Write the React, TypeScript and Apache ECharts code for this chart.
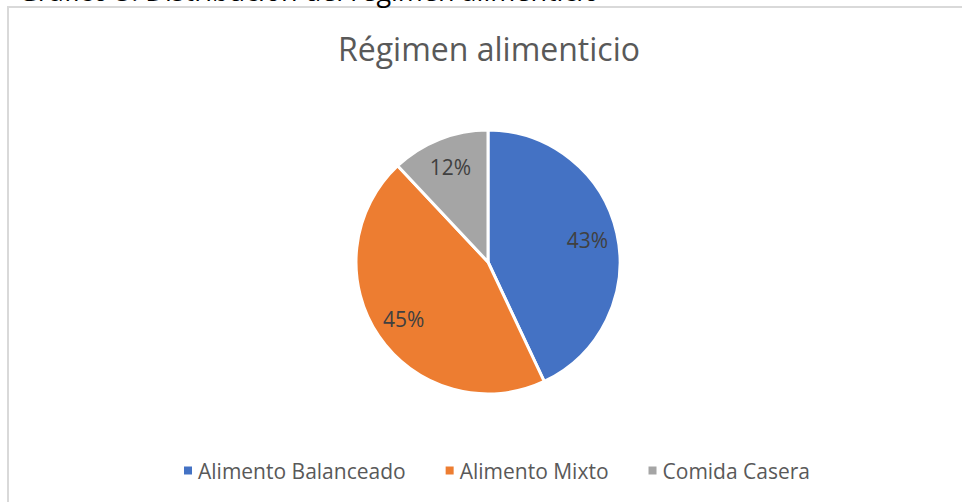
import React, { useEffect, useRef } from "react";
import * as echarts from "echarts";

const categories = ["Alimento Balanceado", "Alimento Mixto", "Comida Casera"];
const values = [43, 45, 12];
const colors = ["#4472C4", "#ED7D31", "#A5A5A5"];
const titleText = "Régimen alimenticio";
const captionText = "Gráfico 5. Distribución del régimen alimenticio";

export default function App() {
  const ref = useRef<HTMLDivElement>(null);
  useEffect(() => {
    if (!ref.current) return;
    const chart = echarts.init(ref.current, null, { renderer: "svg" });
    const data = categories.map((name, i) => ({ name, value: values[i], itemStyle: { color: colors[i] } }));
    chart.setOption({
      animation: false,
      backgroundColor: "#ffffff",
      title: {
        text: titleText,
        left: 333,
        top: 27,
        textStyle: { fontFamily: "Open Sans", fontWeight: "normal", fontSize: 32, color: "#595959" },
      },
      legend: {
        data: categories,
        top: 455,
        left: 177,
        icon: "rect",
        itemWidth: 10,
        itemHeight: 10,
        itemGap: 38,
        textStyle: { fontFamily: "Open Sans", fontSize: 21, color: "#595959" },
      },
      graphic: [
        {
          type: "rect",
          shape: { x: 8, y: 7, width: 1000, height: 600 },
          style: { fill: "none", stroke: "#d9d9d9", lineWidth: 2 },
          silent: true,
        },
        {
          type: "text",
          x: 18,
          y: 4,
          style: {
            text: captionText,
            font: "27px 'Open Sans'",
            fill: "#000000",
            verticalAlign: "bottom",
          },
          silent: true,
        },
      ],
      series: [
        {
          type: "pie",
          center: [488, 262],
          radius: [0, 132],
          startAngle: 90,
          clockwise: true,
          data,
          label: { show: false },
          labelLine: { show: false },
          itemStyle: { borderColor: "#ffffff", borderWidth: 3 },
          silent: true,
        },
        {
          type: "pie",
          center: [488, 262],
          radius: [0, 198],
          startAngle: 90,
          clockwise: true,
          data: categories.map((name, i) => ({ name, value: values[i] })),
          itemStyle: { color: "transparent" },
          label: {
            show: true,
            position: "inside",
            formatter: "{d}%",
            fontFamily: "Open Sans",
            fontSize: 21,
            color: "#404040",
          },
          labelLine: { show: false },
          emphasis: { disabled: true },
          silent: true,
          z: 3,
        },
      ],
    });
    return () => chart.dispose();
  }, []);
  return <div ref={ref} style={{ position: "fixed", left: 0, top: 0, width: 962, height: 502 }} />;
}
